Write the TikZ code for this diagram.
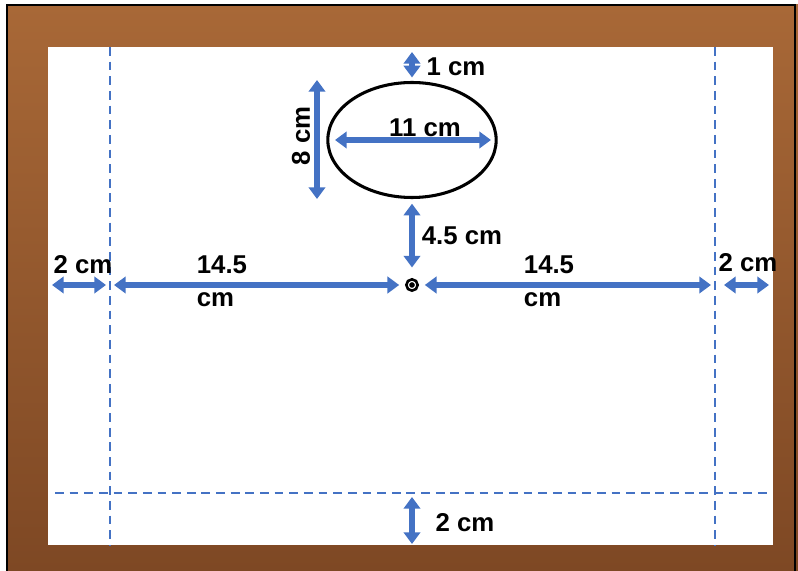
\documentclass[tikz,border=0pt]{standalone}
\usepackage{fontspec}
\setmainfont{Liberation Sans}
\usepackage{tikz}
\usetikzlibrary{positioning, arrows.meta, shapes.geometric}

\definecolor{dimblue}{RGB}{68,114,196}
\definecolor{woodtop}{RGB}{168,104,55}
\definecolor{woodmid}{RGB}{152,90,45}
\definecolor{woodbot}{RGB}{126,72,36}

\tikzset{
  dimline/.style={{Triangle[length=10pt,width=14pt]}-{Triangle[length=10pt,width=14pt]}, dimblue, line width=4.8pt},
  guide/.style={dimblue, line width=1.9pt, dash pattern=on 7.5pt off 5pt},
  lbl/.style={font=\bfseries\fontsize{22}{28}\selectfont, inner sep=0pt},
}

\begin{document}
\begin{tikzpicture}[x=0.03cm, y=-0.03cm]
  \useasboundingbox (0,0) rectangle (798,571);
  % table top
  \shade[top color=woodtop, middle color=woodmid, bottom color=woodbot] (7,5) rectangle (798,571);
  \draw[line width=1.2pt] (7,571) -- (7,5) -- (795,5) -- (795,571);
  % sheet of paper
  \fill[white] (48,47) rectangle (773,545);
  % margin guides
  \draw[guide] (110,47) -- (110,545);
  \draw[guide] (715,47) -- (715,545);
  \draw[guide] (55,493) -- (770,493);

  % oval and centre mark
  \node[ellipse, draw, line width=2.6pt, minimum width=5.05cm, minimum height=3.45cm, inner sep=0pt] (oval) at (412,140) {};
  \node[circle, draw, line width=2.2pt, minimum size=0.34cm, inner sep=0pt] (pin) at (412,285) {};
  \fill (pin) circle (2.4pt);

  % free ends
  \coordinate (topedge) at (412,52);
  \coordinate (ovaltop) at (317,80);
  \coordinate (ovalbot) at (317,199);
  \coordinate (ovalL) at (335,140);
  \coordinate (ovalR) at (491,140);
  \coordinate (sheetL) at (52,285);
  \coordinate (guideL) at (106,285);
  \coordinate (guideLi) at (114,285);
  \coordinate (guideRi) at (711,285);
  \coordinate (guideR) at (724,285);
  \coordinate (sheetR) at (769,285);
  \coordinate (guideB) at (412,497);
  \coordinate (sheetB) at (412,544);

  % dimensions
  \draw[dimline] (topedge) -- ([yshift=3pt]oval.north);
  \draw[dimline] (ovaltop) -- (ovalbot);
  \draw[dimline] (ovalL) -- (ovalR);
  \draw[dimline, shorten <=4pt, shorten >=9pt] (oval.south) -- (pin.north);
  \draw[dimline] (sheetL) -- (guideL);
  \draw[dimline, shorten >=5pt] (guideLi) -- (pin.west);
  \draw[dimline, shorten >=5pt] (guideRi) -- (pin.east);
  \draw[dimline] (guideR) -- (sheetR);
  \draw[dimline] (guideB) -- (sheetB);

  % labels
  \node[lbl] (ltop) at (456,67) {1 cm};
  \node[lbl, rotate=90] (lhgt) at (301,136) {8 cm};
  \node[lbl] (lwid) at (425,128) {11 cm};
  \node[lbl] (lgap) at (462,236) {4.5 cm};
  \node[lbl] (lmL) at (83,265) {2 cm};
  \node[lbl, align=left] (lhalfL) at (222,281) {14.5\\cm};
  \node[lbl, align=left] (lhalfR) at (549,281) {14.5\\cm};
  \node[lbl] (lmR) at (748,263) {2 cm};
  \node[lbl] (lmB) at (465,523) {2 cm};
\end{tikzpicture}
\end{document}
